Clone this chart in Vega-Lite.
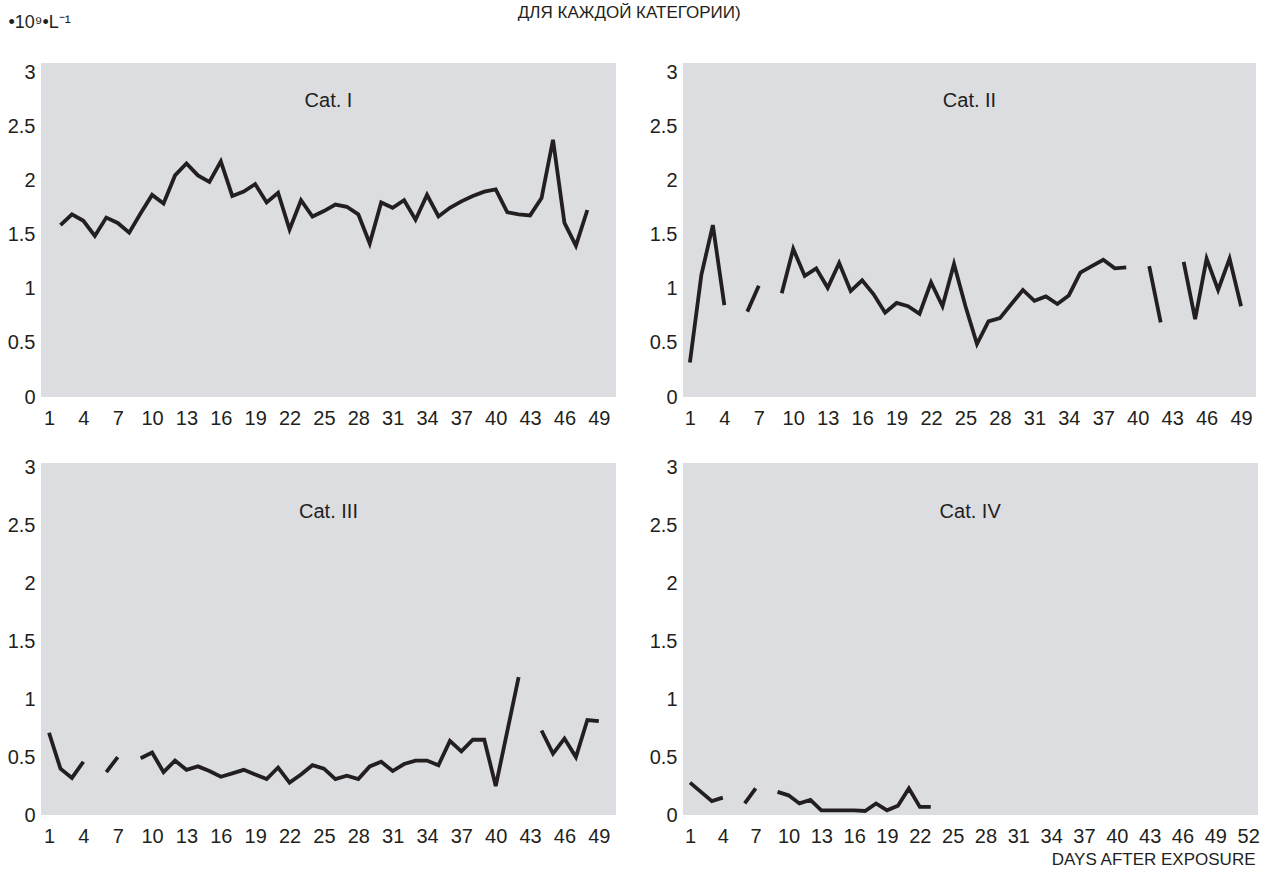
{
  "$schema": "https://vega.github.io/schema/vega-lite/v6.json",
  "background": "white",
  "padding": {"left": 7, "top": 4, "right": 0, "bottom": 0},
  "title": {"text": "ДЛЯ КАЖДОЙ КАТЕГОРИИ)", "anchor": "middle", "fontSize": 17, "fontWeight": "normal", "color": "#231f20", "font": "Liberation Sans", "offset": 0, "dy": 9, "dx": -4},
  "config": {
    "view": {"fill": "#dcdde0", "stroke": null},
    "font": "Liberation Sans",
    "axis": {"domain": false, "ticks": false, "grid": false, "labelFont": "Liberation Sans", "labelFontSize": 20, "labelColor": "#231f20", "labelFlush": false, "labelOverlap": false, "titleFont": "Liberation Sans", "titleFontWeight": "normal", "titleColor": "#231f20"},
    "axisX": {"labelPadding": 11, "tickCount": 60},
    "axisY": {"labelPadding": 6, "tickCount": 20},
    "line": {"color": "#231f20", "strokeWidth": 3.8, "strokeJoin": "miter", "strokeCap": "butt", "invalid": "break-paths-show-domains"},
    "text": {"color": "#231f20", "fontSize": 20, "font": "Liberation Sans", "align": "center", "baseline": "middle"}
  },
  "spacing": 29,
  "vconcat": [
    {
      "hconcat": [
        {
          "width": 575, "height": 334,
          "data": {"values": [
            {"day": 2, "value": 1.59}, {"day": 3, "value": 1.69}, {"day": 4, "value": 1.63}, {"day": 5, "value": 1.49}, {"day": 6, "value": 1.66}, {"day": 7, "value": 1.61}, {"day": 8, "value": 1.52}, {"day": 9, "value": 1.70}, {"day": 10, "value": 1.87}, {"day": 11, "value": 1.79}, {"day": 12, "value": 2.05}, {"day": 13, "value": 2.16}, {"day": 14, "value": 2.05}, {"day": 15, "value": 1.99}, {"day": 16, "value": 2.18}, {"day": 17, "value": 1.86}, {"day": 18, "value": 1.90}, {"day": 19, "value": 1.97}, {"day": 20, "value": 1.80}, {"day": 21, "value": 1.89}, {"day": 22, "value": 1.55}, {"day": 23, "value": 1.82}, {"day": 24, "value": 1.67}, {"day": 25, "value": 1.72}, {"day": 26, "value": 1.78}, {"day": 27, "value": 1.76}, {"day": 28, "value": 1.69}, {"day": 29, "value": 1.42}, {"day": 30, "value": 1.80}, {"day": 31, "value": 1.75}, {"day": 32, "value": 1.82}, {"day": 33, "value": 1.64}, {"day": 34, "value": 1.87}, {"day": 35, "value": 1.67}, {"day": 36, "value": 1.75}, {"day": 37, "value": 1.81}, {"day": 38, "value": 1.86}, {"day": 39, "value": 1.90}, {"day": 40, "value": 1.92}, {"day": 41, "value": 1.71}, {"day": 42, "value": 1.69}, {"day": 43, "value": 1.68}, {"day": 44, "value": 1.84}, {"day": 45, "value": 2.38}, {"day": 46, "value": 1.61}, {"day": 47, "value": 1.40}, {"day": 48, "value": 1.73}
          ]},
          "layer": [
            {
              "mark": {"type": "line"},
              "encoding": {
                "x": {"field": "day", "type": "quantitative", "scale": {"domain": [0.3, 50.5], "nice": false, "zero": false}, "axis": {"values": [1,4,7,10,13,16,19,22,25,28,31,34,37,40,43,46,49], "title": null, "labelOverlap": false, "tickCount": 60}},
                "y": {"field": "value", "type": "quantitative", "scale": {"domain": [0, 3.09], "nice": false}, "title": "•10⁹•L⁻¹", "axis": {"values": [0,0.5,1,1.5,2,2.5,3], "format": "~g", "labelOverlap": false, "titleAngle": 0, "titleX": -33, "titleY": -41, "titleAlign": "left", "titleBaseline": "middle", "titleFontSize": 18}}
              }
            },
            {
              "data": {"values": [{"label": "Cat. I"}]},
              "mark": {"type": "text"},
              "encoding": {"x": {"datum": 25.4}, "y": {"datum": 2.74}, "text": {"field": "label"}}
            }
          ]
        },
        {
          "width": 573, "height": 334,
          "data": {"values": [
            {"day": 1, "value": 0.32}, {"day": 2, "value": 1.13}, {"day": 3, "value": 1.59}, {"day": 4, "value": 0.85}, {"day": 5, "value": null}, {"day": 6, "value": 0.79}, {"day": 7, "value": 1.03}, {"day": 8, "value": null}, {"day": 9, "value": 0.96}, {"day": 10, "value": 1.37}, {"day": 11, "value": 1.12}, {"day": 12, "value": 1.19}, {"day": 13, "value": 1.01}, {"day": 14, "value": 1.24}, {"day": 15, "value": 0.98}, {"day": 16, "value": 1.08}, {"day": 17, "value": 0.95}, {"day": 18, "value": 0.78}, {"day": 19, "value": 0.87}, {"day": 20, "value": 0.84}, {"day": 21, "value": 0.77}, {"day": 22, "value": 1.06}, {"day": 23, "value": 0.84}, {"day": 24, "value": 1.23}, {"day": 25, "value": 0.84}, {"day": 26, "value": 0.49}, {"day": 27, "value": 0.70}, {"day": 28, "value": 0.73}, {"day": 29, "value": 0.86}, {"day": 30, "value": 0.99}, {"day": 31, "value": 0.89}, {"day": 32, "value": 0.93}, {"day": 33, "value": 0.86}, {"day": 34, "value": 0.94}, {"day": 35, "value": 1.15}, {"day": 36, "value": 1.21}, {"day": 37, "value": 1.27}, {"day": 38, "value": 1.19}, {"day": 39, "value": 1.20}, {"day": 40, "value": null}, {"day": 41, "value": 1.21}, {"day": 42, "value": 0.69}, {"day": 43, "value": null}, {"day": 44, "value": 1.25}, {"day": 45, "value": 0.72}, {"day": 46, "value": 1.28}, {"day": 47, "value": 0.99}, {"day": 48, "value": 1.28}, {"day": 49, "value": 0.84}
          ]},
          "layer": [
            {
              "mark": {"type": "line"},
              "encoding": {
                "x": {"field": "day", "type": "quantitative", "scale": {"domain": [0.4, 50.3], "nice": false, "zero": false}, "axis": {"values": [1,4,7,10,13,16,19,22,25,28,31,34,37,40,43,46,49], "title": null, "labelOverlap": false, "tickCount": 60}},
                "y": {"field": "value", "type": "quantitative", "scale": {"domain": [0, 3.09], "nice": false}, "axis": {"values": [0,0.5,1,1.5,2,2.5,3], "format": "~g", "title": null, "labelOverlap": false}}
              }
            },
            {
              "data": {"values": [{"label": "Cat. II"}]},
              "mark": {"type": "text"},
              "encoding": {"x": {"datum": 25.35}, "y": {"datum": 2.74}, "text": {"field": "label"}}
            }
          ]
        }
      ],
      "spacing": 33
    },
    {
      "hconcat": [
        {
          "width": 575, "height": 352,
          "data": {"values": [
            {"day": 1, "value": 0.71}, {"day": 2, "value": 0.40}, {"day": 3, "value": 0.32}, {"day": 4, "value": 0.46}, {"day": 5, "value": null}, {"day": 6, "value": 0.37}, {"day": 7, "value": 0.50}, {"day": 8, "value": null}, {"day": 9, "value": 0.49}, {"day": 10, "value": 0.54}, {"day": 11, "value": 0.37}, {"day": 12, "value": 0.47}, {"day": 13, "value": 0.39}, {"day": 14, "value": 0.42}, {"day": 15, "value": 0.38}, {"day": 16, "value": 0.33}, {"day": 17, "value": 0.36}, {"day": 18, "value": 0.39}, {"day": 19, "value": 0.35}, {"day": 20, "value": 0.31}, {"day": 21, "value": 0.41}, {"day": 22, "value": 0.28}, {"day": 23, "value": 0.35}, {"day": 24, "value": 0.43}, {"day": 25, "value": 0.40}, {"day": 26, "value": 0.31}, {"day": 27, "value": 0.34}, {"day": 28, "value": 0.31}, {"day": 29, "value": 0.42}, {"day": 30, "value": 0.46}, {"day": 31, "value": 0.38}, {"day": 32, "value": 0.44}, {"day": 33, "value": 0.47}, {"day": 34, "value": 0.47}, {"day": 35, "value": 0.43}, {"day": 36, "value": 0.64}, {"day": 37, "value": 0.55}, {"day": 38, "value": 0.65}, {"day": 39, "value": 0.65}, {"day": 40, "value": 0.25}, {"day": 42, "value": 1.19}, {"day": 43, "value": null}, {"day": 44, "value": 0.73}, {"day": 45, "value": 0.53}, {"day": 46, "value": 0.66}, {"day": 47, "value": 0.50}, {"day": 48, "value": 0.82}, {"day": 49, "value": 0.81}
          ]},
          "layer": [
            {
              "mark": {"type": "line"},
              "encoding": {
                "x": {"field": "day", "type": "quantitative", "scale": {"domain": [0.3, 50.5], "nice": false, "zero": false}, "axis": {"values": [1,4,7,10,13,16,19,22,25,28,31,34,37,40,43,46,49], "title": null, "labelOverlap": false, "tickCount": 60}},
                "y": {"field": "value", "type": "quantitative", "scale": {"domain": [0, 3.04], "nice": false}, "axis": {"values": [0,0.5,1,1.5,2,2.5,3], "format": "~g", "title": null, "labelOverlap": false}}
              }
            },
            {
              "data": {"values": [{"label": "Cat. III"}]},
              "mark": {"type": "text"},
              "encoding": {"x": {"datum": 25.4}, "y": {"datum": 2.62}, "text": {"field": "label"}}
            }
          ]
        },
        {
          "width": 575, "height": 352,
          "data": {"values": [
            {"day": 1, "value": 0.28}, {"day": 3, "value": 0.12}, {"day": 4, "value": 0.15}, {"day": 5, "value": null}, {"day": 6, "value": 0.10}, {"day": 7, "value": 0.23}, {"day": 8, "value": null}, {"day": 9, "value": 0.20}, {"day": 10, "value": 0.17}, {"day": 11, "value": 0.10}, {"day": 12, "value": 0.13}, {"day": 13, "value": 0.04}, {"day": 14, "value": 0.04}, {"day": 15, "value": 0.04}, {"day": 16, "value": 0.04}, {"day": 17, "value": 0.035}, {"day": 18, "value": 0.10}, {"day": 19, "value": 0.04}, {"day": 20, "value": 0.08}, {"day": 21, "value": 0.23}, {"day": 22, "value": 0.07}, {"day": 23, "value": 0.07}
          ]},
          "layer": [
            {
              "mark": {"type": "line"},
              "encoding": {
                "x": {"field": "day", "type": "quantitative", "scale": {"domain": [0.36, 52.9], "nice": false, "zero": false}, "title": "DAYS AFTER EXPOSURE", "axis": {"values": [1,4,7,10,13,16,19,22,25,28,31,34,37,40,43,46,49,52], "labelOverlap": false, "tickCount": 60, "titleX": 572, "titleY": 44, "titleAlign": "right", "titleBaseline": "middle", "titleFontSize": 17}},
                "y": {"field": "value", "type": "quantitative", "scale": {"domain": [0, 3.04], "nice": false}, "axis": {"values": [0,0.5,1,1.5,2,2.5,3], "format": "~g", "title": null, "labelOverlap": false}}
              }
            },
            {
              "data": {"values": [{"label": "Cat. IV"}]},
              "mark": {"type": "text"},
              "encoding": {"x": {"datum": 26.6}, "y": {"datum": 2.62}, "text": {"field": "label"}}
            }
          ]
        }
      ],
      "spacing": 33
    }
  ]
}
